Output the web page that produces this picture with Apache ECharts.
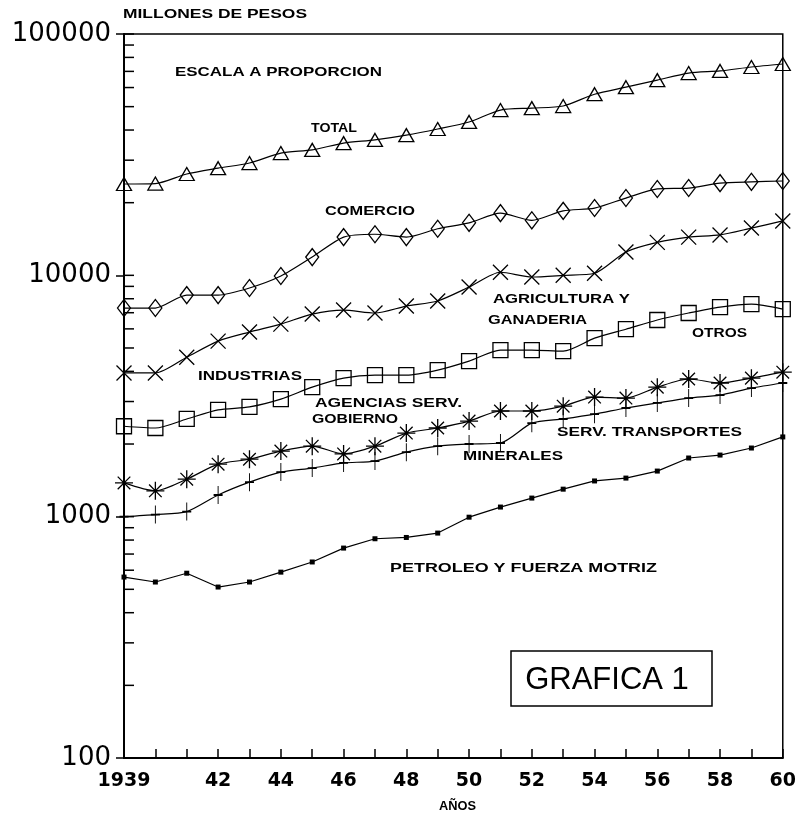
<!DOCTYPE html>
<html lang="es">
<head>
    <meta charset="UTF-8">
    <title>Grafica 1</title>
    <script src="https://cdn.jsdelivr.net/npm/echarts@6/dist/echarts.min.js"></script>
    <style>
        body { margin: 0; background: #fff; }
        #chart { width: 799px; height: 821px; }
    </style>
</head>
<body>
<div id="chart"></div>
<script>
    // datos (millones de pesos)
    var years = [1939, 1940, 1941, 1942, 1943, 1944, 1945, 1946, 1947, 1948, 1949,
        1950, 1951, 1952, 1953, 1954, 1955, 1956, 1957, 1958, 1959, 1960];
    var total = [23900, 24000, 26300, 27800, 29200, 32100, 33100, 35300, 36400, 38100, 40400,
        43200, 48400, 49300, 50300, 56300, 60200, 64400, 68900, 70300, 73000, 75100];
    var comercio = [7320, 7320, 8280, 8280, 8860, 9930, 11900, 14400, 14800, 14400, 15600,
        16500, 18100, 16900, 18500, 19000, 20900, 22800, 23000, 24100, 24400, 24600];
    var agricultura = [3940, 3940, 4580, 5340, 5820, 6280, 6910, 7180, 6980, 7460, 7830,
        8940, 10300, 9840, 10000, 10200, 12500, 13700, 14400, 14700, 15700, 16800];
    var industrias = [2370, 2330, 2540, 2770, 2850, 3070, 3440, 3750, 3860, 3860, 4050,
        4410, 4900, 4900, 4850, 5490, 5980, 6530, 6980, 7390, 7600, 7250];
    var agencias = [1380, 1280, 1430, 1650, 1730, 1870, 1960, 1820, 1960, 2220, 2330,
        2490, 2740, 2740, 2870, 3130, 3100, 3440, 3720, 3580, 3750, 3970];
    var transportes = [1000, 1020, 1050, 1230, 1390, 1530, 1590, 1670, 1700, 1850, 1960,
        2000, 2020, 2440, 2540, 2660, 2820, 2960, 3100, 3190, 3410, 3580];
    var petroleo = [562, 536, 583, 511, 536, 589, 649, 741, 810, 820, 855,
        995, 1096, 1194, 1300, 1406, 1445, 1545, 1750, 1800, 1925, 2140];

    var yLabels = [100, 1000, 10000, 100000];
    var minorTicks = [200, 300, 400, 500, 600, 700, 800, 900,
        2000, 3000, 4000, 5000, 6000, 7000, 8000, 9000,
        20000, 30000, 40000, 50000, 60000, 70000, 80000, 90000];

    // etiquetas: texto, x inicio, x fin, y centro
    var notas = [
        ['MILLONES DE PESOS', 123, 307, 15],
        ['ESCALA A PROPORCION', 175, 382, 73],
        ['TOTAL', 311, 357, 129],
        ['COMERCIO', 325, 415, 212],
        ['AGRICULTURA Y', 493, 630, 300],
        ['GANADERIA', 488, 587, 321],
        ['OTROS', 692, 747, 334],
        ['INDUSTRIAS', 198, 302, 377],
        ['AGENCIAS SERV.', 315, 462, 404],
        ['GOBIERNO', 312, 398, 420],
        ['SERV. TRANSPORTES', 557, 742, 433],
        ['MINERALES', 463, 563, 457],
        ['PETROLEO Y FUERZA MOTRIZ', 390, 657, 569],
        ['AÑOS', 439, 476, 807]
    ];

    function pares(arr) {
        return years.map(function (y, i) { return [y, arr[i]]; });
    }

    var chart = echarts.init(document.getElementById('chart'));

    function serie(name, arr, symbol, size) {
        return {
            name: name,
            type: 'line',
            data: pares(arr),
            smooth: 0.25,
            symbol: symbol,
            symbolSize: size,
            lineStyle: { color: '#000', width: 1.2 },
            itemStyle: { color: 'rgba(0,0,0,0)', borderColor: '#000', borderWidth: 1.3 }
        };
    }

    var option = {
        animation: false,
        backgroundColor: '#fff',
        grid: {
            left: 124, top: 34, right: 16, bottom: 63,
            show: true, borderColor: '#000', borderWidth: 1.5
        },
        xAxis: {
            type: 'value',
            min: 1939, max: 1960, interval: 1,
            splitLine: { show: false },
            axisLine: { lineStyle: { color: '#000', width: 2 } },
            axisTick: { inside: true, length: 9, lineStyle: { color: '#000', width: 1.5 } },
            axisLabel: {
                color: '#000', fontFamily: 'DejaVu Sans', fontWeight: 'bold', fontSize: 19, margin: 14,
                formatter: function (v) {
                    if (v === 1939) return '1939';
                    if (v % 2 === 0 && v >= 1942) return String(v).slice(2);
                    return '';
                }
            }
        },
        yAxis: {
            type: 'log', logBase: 10, min: 100, max: 100000,
            splitLine: { show: false },
            axisLine: { lineStyle: { color: '#000', width: 2 } },
            axisTick: { length: 8, lineStyle: { color: '#000', width: 1.5 } },
            axisLabel: {
                color: '#000', fontFamily: 'DejaVu Sans', fontSize: 26, margin: 13,
                formatter: function (v) { return yLabels.indexOf(Math.round(v)) >= 0 ? String(Math.round(v)) : ''; }
            }
        },
        series: [
            serie('Total', total, 'triangle', [15, 13]),
            serie('Comercio', comercio, 'diamond', [13, 17]),
            serie('Agricultura y Ganaderia', agricultura, 'path://M0,0L10,10M10,0L0,10', 15),
            serie('Industrias', industrias, 'rect', 15),
            serie('Agencias Serv. Gobierno', agencias, 'path://M5,0L5,10M0,5L10,5M1.5,1.5L8.5,8.5M8.5,1.5L1.5,8.5', 18),
            serie('Serv. Transportes', transportes, 'path://M5,0L5,18M0,9L10,9', [9, 18]),
            {
                name: 'Petroleo y Fuerza Motriz',
                type: 'line',
                data: pares(petroleo),
                symbol: 'rect',
                symbolSize: 5,
                lineStyle: { color: '#000', width: 1.2 },
                itemStyle: { color: '#000' }
            }
        ]
    };

    chart.setOption(option);

    // marcas menores del eje logaritmico y textos
    var ctx = document.createElement('canvas').getContext('2d');
    var fuente = 'bold 12px "Liberation Sans"';
    ctx.font = fuente;

    var graficos = [];
    var x0 = chart.convertToPixel({ xAxisIndex: 0 }, 1939);
    minorTicks.concat(yLabels).forEach(function (v) {
        var py = chart.convertToPixel({ yAxisIndex: 0 }, v);
        graficos.push({
            type: 'line',
            shape: { x1: x0, y1: py, x2: x0 + 10, y2: py },
            style: { stroke: '#000', lineWidth: 1.5 }
        });
    });

    notas.forEach(function (n) {
        var w = ctx.measureText(n[0]).width;
        graficos.push({
            type: 'text',
            x: n[1], y: n[3],
            scaleX: (n[2] - n[1]) / w,
            z: 50,
            style: {
                text: n[0], font: fuente, fill: '#000',
                textAlign: 'left', textVerticalAlign: 'middle'
            }
        });
    });

    graficos.push({
        type: 'rect',
        shape: { x: 511, y: 651, width: 201, height: 55 },
        style: { fill: '#fff', stroke: '#000', lineWidth: 1.5 },
        z: 50
    });
    graficos.push({
        type: 'text',
        x: 607, y: 680, z: 51,
        style: {
            text: 'GRAFICA 1', font: '31px "Liberation Sans"', fill: '#000',
            textAlign: 'center', textVerticalAlign: 'middle'
        }
    });

    chart.setOption({ graphic: graficos });
</script>
</body>
</html>
